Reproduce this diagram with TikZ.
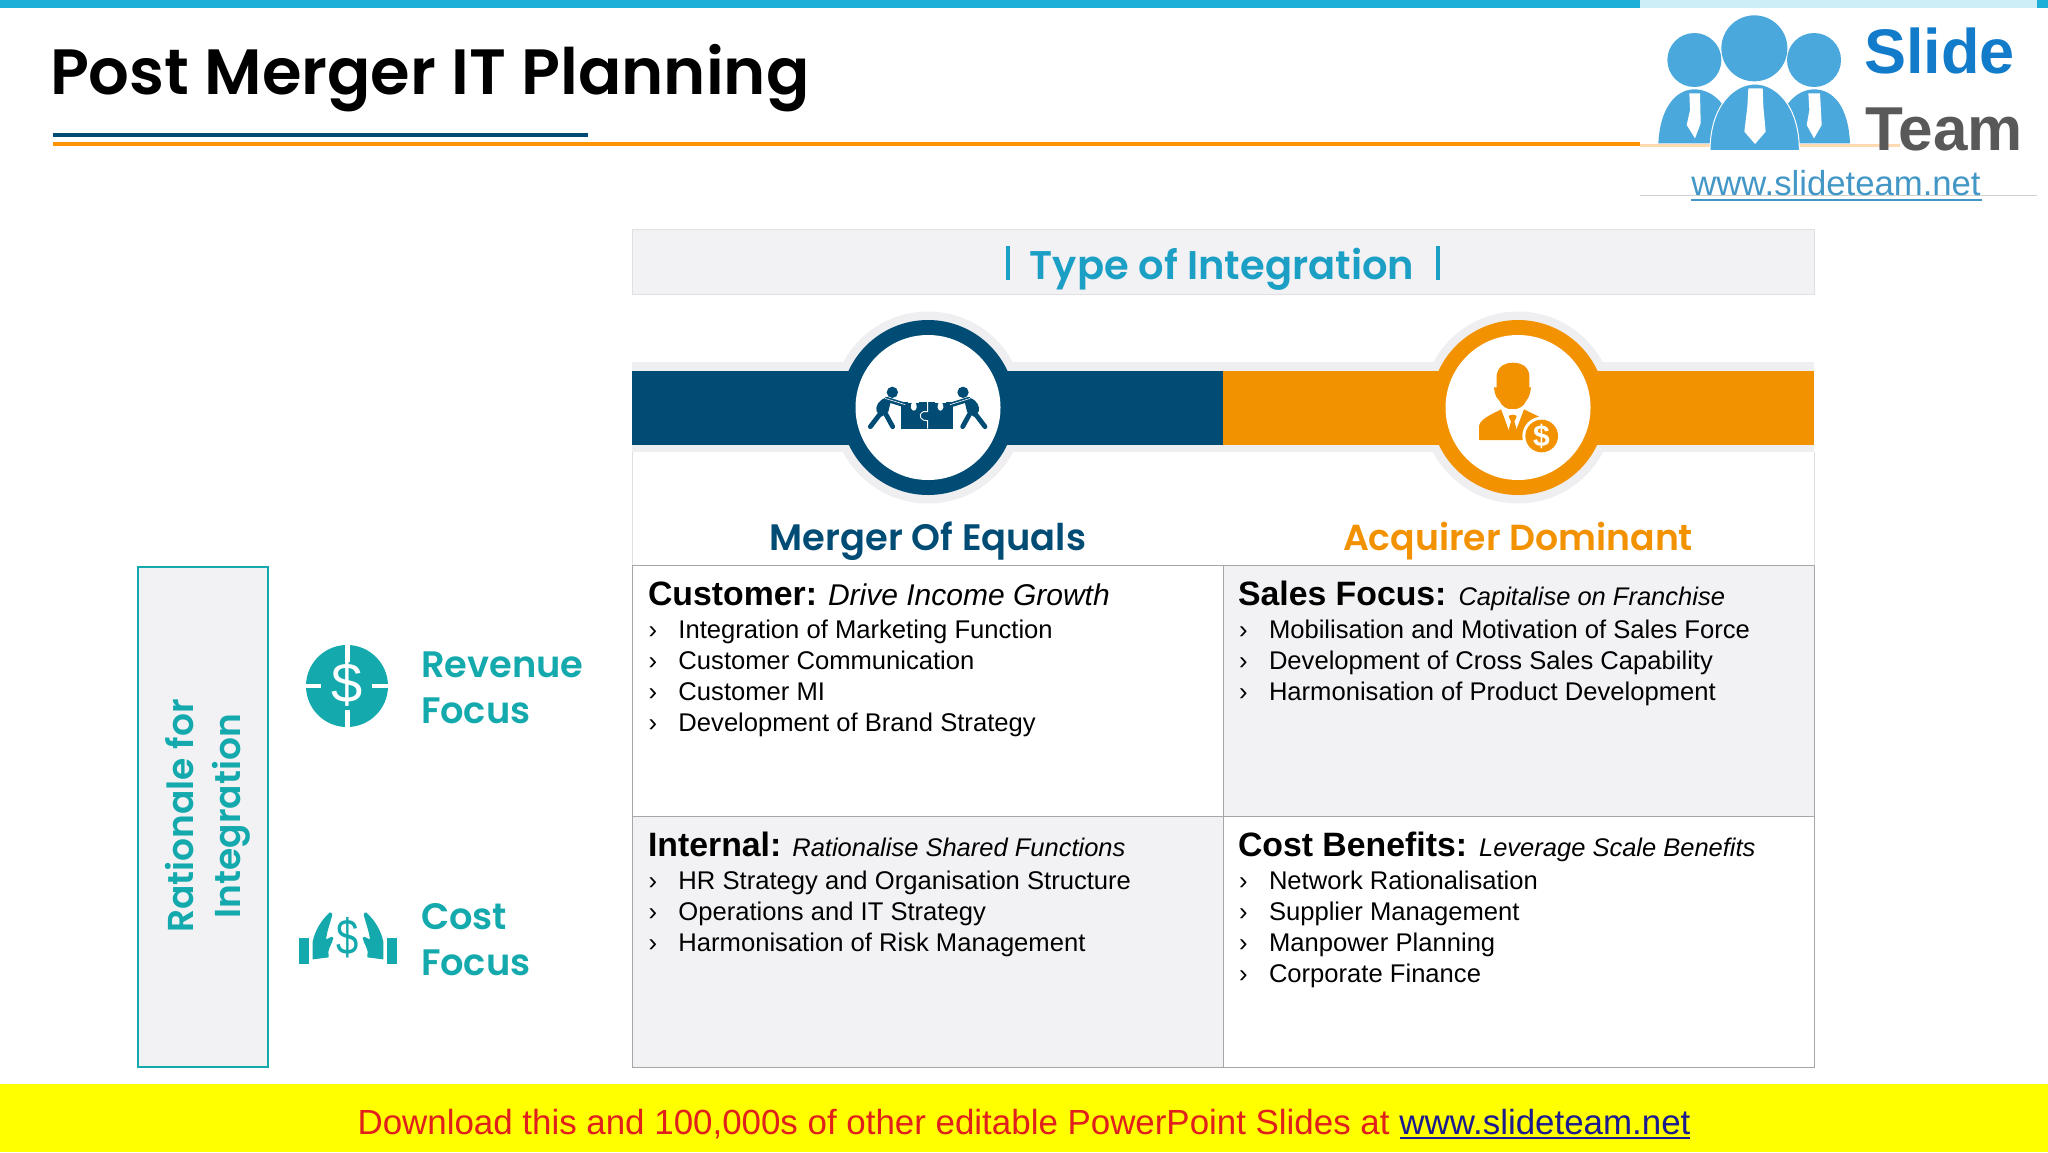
\documentclass[tikz,border=0pt]{standalone}
\usepackage{fontspec}
\setmainfont{Liberation Sans}
\newfontfamily\geo{Poppins}[BoldFont={Poppins SemiBold}]
\definecolor{navy}{HTML}{014C75}
\definecolor{orng}{HTML}{F39200}
\definecolor{teal1}{HTML}{14A9AD}
\definecolor{cyan1}{HTML}{1CB0D8}
\definecolor{type1}{HTML}{1C9FC4}
\definecolor{halo}{HTML}{EFEFF1}
\definecolor{panel}{HTML}{F2F2F4}
\definecolor{logob}{HTML}{4AA8DC}
\definecolor{gridc}{HTML}{A6A6A6}
\definecolor{foot}{HTML}{FFFF00}
\definecolor{footred}{HTML}{E0201C}
\definecolor{footblue}{HTML}{1B1B8F}
\newcommand{\mk}{\makebox[15pt][l]{›}}
\newcommand{\fs}[1]{\fontsize{#1}{#1}\selectfont}
\tikzset{
  tx/.style={anchor=base west,inner sep=0pt,outer sep=0pt},
  lead/.style={tx,font=\fs{16.9}},
  bul/.style={tx,font=\fs{12.8}},
  head/.style={anchor=base,inner sep=0pt,font=\geo\bfseries\fs{18.4}},
  focus/.style={tx,font=\geo\bfseries\fs{18.4},text=teal1},
  cell/.style={draw=gridc,line width=0.6pt},
  limb/.style={line width=2.4pt,line cap=round,line join=round,draw=navy},
  sub/.style={x=0.16667pt,y=-0.16667pt},
}
\begin{document}
\begin{tikzpicture}[x=0.5pt,y=-0.5pt]
\useasboundingbox (0,0) rectangle (2048,1152);
\fill[white] (0,0) rectangle (2048,1152);
% top bar and rules
\fill[cyan1] (0,0) rectangle (2048,8);
\fill[navy] (53,133) rectangle (588,137);
\fill[orange!85!yellow] (53,142) rectangle (1640,146);
\node[tx,font=\geo\bfseries\fs{32}] (title) at (50,94) {Post Merger IT Planning};
% logo
\fill[white] (1640,0) rectangle (2037,196);
\fill[cyan1!22] (1640,0) rectangle (2037,8);
\fill[orange!30!white] (1640,144) rectangle (1900,147);
\draw[black!18,line width=0.5pt] (1640,195.5) -- (2037,195.5);
\begin{scope}[shift={(1600,0)},sub]
 \fill[logob] (283,180) circle (81);
 \fill[logob] (642,180) circle (81);
 \fill[logob] (463,145) circle (99);
 \fill[logob] (175,430) .. controls (180,320) and (230,268) .. (283,268) .. controls (340,268) and (400,320) .. (400,430) -- cycle;
 \fill[logob] (530,430) .. controls (530,320) and (590,268) .. (642,268) .. controls (700,268) and (745,320) .. (750,430) -- cycle;
 \filldraw[fill=logob,draw=white,line width=0.5pt] (330,452) .. controls (330,320) and (400,252) .. (465,252) .. controls (530,252) and (598,320) .. (598,452) -- cycle;
 \fill[white] (268,280) -- (300,280) -- (302,370) -- (285,415) -- (260,375) -- (270,330) -- cycle;
 \fill[white] (625,280) -- (660,280) -- (665,375) -- (642,415) -- (620,375) -- (628,330) -- cycle;
 \fill[white] (445,265) -- (488,265) -- (490,320) -- (497,395) -- (465,432) -- (433,395) -- (442,320) -- cycle;
\end{scope}
\node[anchor=base west,inner sep=0pt,font=\bfseries\fs{31.5},text=cyan!60!blue] (slide) at (1864,73) {Slide};
\node[anchor=base west,inner sep=0pt,font=\bfseries\fs{31},text=black!65] (team) at (1865,150) {Team};
\node[anchor=base,inner sep=0pt,font=\fs{17.35},text=logob!90!black] (url) at (1836,195) {www.slideteam.net};
\fill[logob!90!black] (1691,198.5) rectangle (1982,201);
% header
\node[draw=black!12,fill=panel,line width=0.5pt,minimum width=591pt,minimum height=32.5pt,inner sep=0pt] (hdr) at (1223,262) {};
\node[anchor=base,inner sep=0pt,font=\geo\bfseries\fs{20},text=type1] (hdrtxt) at (1222,279) {Type of Integration};
\fill[type1] (1006,246) rectangle (1009.5,280);
\fill[type1] (1436,246) rectangle (1439.5,280);
% bands
\draw[black!12,line width=0.5pt] (632,452) -- (632,565);
\draw[black!12,line width=0.5pt] (1814,452) -- (1814,565);
\fill[halo] (632,362) rectangle (1814,452);
\fill[halo] (928,407.5) circle (48pt);
\fill[halo] (1518,407.5) circle (48pt);
\fill[navy] (632,371) rectangle (1223,445);
\fill[orng] (1223,371) rectangle (1814,445);
\fill[navy] (928,407.5) circle (43.75pt);
\fill[orng] (1518,407.5) circle (43.75pt);
\fill[white] (928,407.5) circle (36.25pt);
\fill[white] (1518,407.5) circle (36.25pt);
% puzzle icon
\begin{scope}[shift={(780,300)},sub]
 \fill[navy] (362,386) -- (362,307) -- (520,307) -- (520,386) -- cycle;
 \fill[white] (401,303) .. controls (385,318) and (395,332) .. (401,332) .. controls (408,332) and (418,318) .. (401,303) -- cycle;
 \fill[white] (481,303) .. controls (465,318) and (475,332) .. (481,332) .. controls (488,332) and (498,318) .. (481,303) -- cycle;
 \fill[white] (385,303) rectangle (417,308);
 \fill[white] (465,303) rectangle (497,308);
 \draw[white,line width=0.45pt] (443,386) -- (443,362) .. controls (425,365) and (410,345) .. (430,335) -- (443,335) -- (443,305);
 \foreach \m/\o in {1/0,-1/886}{
  \begin{scope}[shift={(\o,0)},xscale=\m]
   \fill[navy] (337,277) circle (17);
   \fill[navy] (318,293) .. controls (295,300) and (285,320) .. (290,335) -- (305,350) -- (325,335) -- (332,305) -- cycle;
   \draw[limb] (320,298) -- (378,316);
   \draw[limb] (300,342) -- (271,380);
   \draw[limb] (316,340) -- (338,380);
   \draw[white,line width=0.3pt] (315,295) -- (376,314);
  \end{scope}
 }
\end{scope}
% businessman icon
\begin{scope}[shift={(1370,300)},sub]
 \fill[orng] (372,262) -- (380,262) -- (380,225) .. controls (385,195) and (410,188) .. (428,188) .. controls (450,188) and (473,195) .. (478,225) -- (478,262) -- (483,262) .. controls (480,285) and (475,295) .. (470,300) .. controls (462,320) and (445,328) .. (428,328) .. controls (410,328) and (395,320) .. (387,300) .. controls (380,295) and (374,285) .. (372,262) -- cycle;
 \fill[orng] (327,420) -- (327,378) .. controls (330,358) and (360,345) .. (393,328) -- (462,328) .. controls (480,338) and (500,345) .. (515,355) -- (515,420) -- cycle;
 \fill[white] (393,327) -- (462,327) -- (436,396) -- (418,396) -- cycle;
 \fill[orng] (416,350) .. controls (416,342) and (440,342) .. (440,350) -- (433,364) -- (441,392) -- (428,405) -- (415,392) -- (423,364) -- cycle;
 \fill[orng] (393,327) -- (417,396) -- (406,372) -- cycle;
 \fill[white] (515,408) circle (58);
 \fill[orng] (515,408) circle (49);
\end{scope}
\node[font=\bfseries\fs{15},text=white,inner sep=0pt] (coin) at (1541.5,436) {\$};
% column titles
\node[head,text=navy] (moe) at (928,550) {Merger Of Equals};
\node[head,text=orng,font=\geo\bfseries\fs{18.1}] (acq) at (1518,550) {Acquirer Dominant};
% grid
\node[cell,fill=white,minimum width=295.5pt,minimum height=125.5pt,inner sep=0pt,anchor=north west] (c11) at (632,565) {};
\node[cell,fill=panel,minimum width=295.5pt,minimum height=125.5pt,inner sep=0pt,anchor=north west] (c12) at (1223,565) {};
\node[cell,fill=panel,minimum width=295.5pt,minimum height=125.5pt,inner sep=0pt,anchor=north west] (c21) at (632,816) {};
\node[cell,fill=white,minimum width=295.5pt,minimum height=125.5pt,inner sep=0pt,anchor=north west] (c22) at (1223,816) {};
% cell 1,1
\node[lead] (a0) at (648,605) {\textbf{Customer:}\hspace{5.5pt}\fs{15}\itshape Drive Income Growth};
\node[bul] (a1) at (648.5,638) {\mk Integration of Marketing Function};
\node[bul] (a2) at (648.5,669) {\mk Customer Communication};
\node[bul] (a3) at (648.5,700) {\mk Customer MI};
\node[bul] (a4) at (648.5,731) {\mk Development of Brand Strategy};
% cell 1,2
\node[lead] (b0) at (1238,605) {\textbf{Sales Focus:}\hspace{6pt}\fs{12.75}\itshape Capitalise on Franchise};
\node[bul] (b1) at (1239,638) {\mk Mobilisation and Motivation of Sales Force};
\node[bul] (b2) at (1239,669) {\mk Development of Cross Sales Capability};
\node[bul] (b3) at (1239,700) {\mk Harmonisation of Product Development};
% cell 2,1
\node[lead] (d0) at (648,856) {\textbf{Internal:}\hspace{5.5pt}\fs{12.75}\itshape Rationalise Shared Functions};
\node[bul] (d1) at (648.5,889) {\mk HR Strategy and Organisation Structure};
\node[bul] (d2) at (648.5,920) {\mk Operations and IT Strategy};
\node[bul] (d3) at (648.5,951) {\mk Harmonisation of Risk Management};
% cell 2,2
\node[lead] (e0) at (1238,856) {\textbf{Cost Benefits:}\hspace{6pt}\fs{12.75}\itshape Leverage Scale Benefits};
\node[bul] (e1) at (1239,889) {\mk Network Rationalisation};
\node[bul] (e2) at (1239,920) {\mk Supplier Management};
\node[bul] (e3) at (1239,951) {\mk Manpower Planning};
\node[bul] (e4) at (1239,982) {\mk Corporate Finance};
% rationale box
\node[draw=teal1,fill=panel,line width=1pt,minimum width=65pt,minimum height=250pt,inner sep=0pt] (rat) at (203,817) {};
\node[anchor=base,rotate=90,inner sep=0pt,font=\geo\bfseries\fs{18},text=teal1] (rat1) at (193.5,816) {Rationale for};
\node[anchor=base,rotate=90,inner sep=0pt,font=\geo\bfseries\fs{18},text=teal1] (rat2) at (240,816) {Integration};
% revenue icon
\fill[teal1] (347,686) circle (20.5pt);
\fill[white] (344.5,644) rectangle (349.5,662);
\fill[white] (344.5,710) rectangle (349.5,728);
\fill[white] (305,683.5) rectangle (321,688);
\fill[white] (372,683.5) rectangle (388,688);
\node[inner sep=0pt,font=\fs{28},text=white] (revd) at (347,684) {\$};
\node[focus] (rev1) at (421,677) {Revenue};
\node[focus] (rev2) at (421,723) {Focus};
% cost icon
\begin{scope}[shift={(130,870)},sub]
 \fill[teal1] (508,204) rectangle (538,282);
 \fill[teal1] (770,204) rectangle (800,282);
 \foreach \m/\o in {1/0,-1/1308}{
  \begin{scope}[shift={(\o,0)},xscale=\m]
   \fill[teal1] (548,268) -- (548,215) .. controls (555,180) and (575,150) .. (598,128) .. controls (608,125) and (608,135) .. (604,145) .. controls (598,165) and (590,190) .. (588,208) .. controls (598,205) and (608,195) .. (610,205) .. controls (605,225) and (590,240) .. (596,258) -- (596,262) -- cycle;
  \end{scope}
 }
\end{scope}
\node[inner sep=0pt,font=\fs{25},text=teal1] (costd) at (348,938) {\scalebox{0.8}[1]{\$}};
\node[focus] (cost1) at (421,929) {Cost};
\node[focus] (cost2) at (421,975) {Focus};
% footer
\fill[foot] (0,1084) rectangle (2048,1152);
\node[anchor=base,inner sep=0pt,font=\fs{17.45},text=footred] (foottxt) at (1024,1134) {Download this and 100,000s of other editable PowerPoint Slides at \textcolor{footblue}{www.slideteam.net}};
\fill[footblue] (1400,1137) rectangle (1690,1138.5);
\end{tikzpicture}
\end{document}
